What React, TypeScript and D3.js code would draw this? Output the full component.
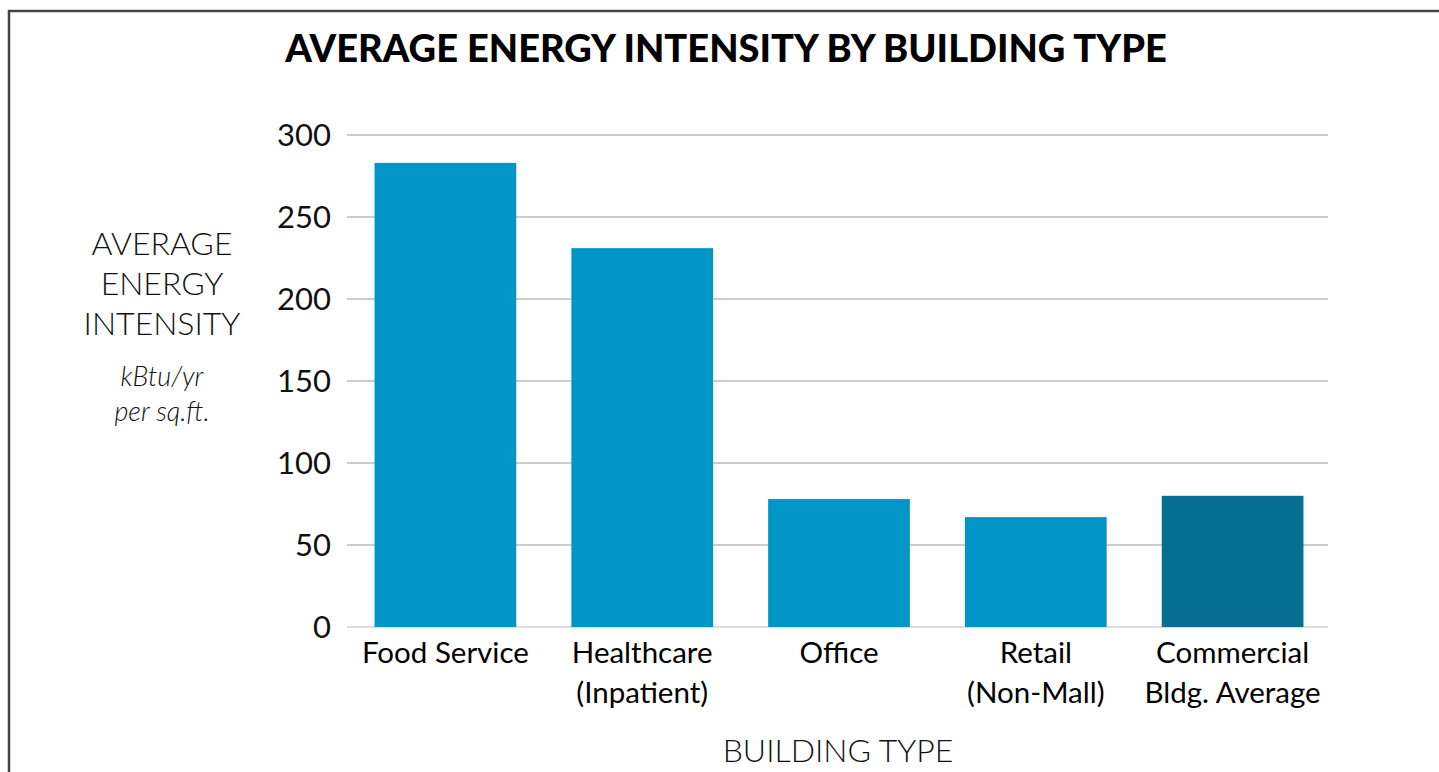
import React from "react";
import * as d3 from "d3";

const categories = ["Food Service", "Healthcare (Inpatient)", "Office", "Retail (Non-Mall)", "Commercial Bldg. Average"];
const categoryLines = [["Food Service"], ["Healthcare", "(Inpatient)"], ["Office"], ["Retail", "(Non-Mall)"], ["Commercial", "Bldg. Average"]];
const values = [283, 231, 78, 67, 80];
const yTicks = [0, 50, 100, 150, 200, 250, 300];
const title = "AVERAGE ENERGY INTENSITY BY BUILDING TYPE";
const yTitleLines = ["AVERAGE", "ENERGY", "INTENSITY"];
const yUnitLines = ["kBtu/yr", "per sq.ft."];
const xTitle = "BUILDING TYPE";

const W = 1439, H = 772;
const FONT = "Lato, 'Open Sans', sans-serif";

export default function App() {
  const x = d3.scaleBand<string>().domain(categories).range([347, 1331]).paddingInner(0.28).paddingOuter(0.14);
  const y = d3.scaleLinear().domain([0, 300]).range([627, 135]);
  return (
    <svg width={W} height={H} style={{ position: "absolute", left: 0, top: 0 }}>
      <rect x={0} y={0} width={W} height={H} fill="#fff" />
      <path d="M9,772 V11 H1439" fill="none" stroke="#444" strokeWidth={2.5} />
      <text x={726} y={62} textAnchor="middle" fontFamily={FONT} fontWeight={900} fontSize={38} fill="#000">{title}</text>
      {yTicks.map((t) => (
        <g key={t}>
          <line x1={347} x2={1328} y1={y(t)} y2={y(t)} stroke={t === 0 ? "#bbb" : "#999"} strokeWidth={1.2} />
          <text x={331} y={y(t) + 11} textAnchor="end" fontFamily={FONT} fontWeight={400} fontSize={31} fill="#111">{t}</text>
        </g>
      ))}
      {categories.map((c, i) => (
        <rect key={c} x={x(c)} y={y(values[i])} width={x.bandwidth()} height={y(0) - y(values[i])} fill={i === 4 ? "#046F91" : "#0295C8"} />
      ))}
      {categories.map((c, i) => (
        <text key={c} textAnchor="middle" fontFamily={FONT} fontSize={29.5} fill="#000">
          {categoryLines[i].map((l, j) => (
            <tspan key={j} x={(x(c) as number) + x.bandwidth() / 2} y={663 + j * 40}>{l}</tspan>
          ))}
        </text>
      ))}
      {yTitleLines.map((l, j) => (
        <text key={l} x={162} y={255 + j * 40} textAnchor="middle" fontFamily={FONT} fontWeight={300} fontSize={32} fill="#111">{l}</text>
      ))}
      {yUnitLines.map((l, j) => (
        <text key={l} x={162} y={386 + j * 35} textAnchor="middle" fontFamily={FONT} fontWeight={300} fontStyle="italic" fontSize={27} fill="#111">{l}</text>
      ))}
      <text x={838} y={762} textAnchor="middle" fontFamily={FONT} fontWeight={300} fontSize={32} fill="#111">{xTitle}</text>
    </svg>
  );
}
